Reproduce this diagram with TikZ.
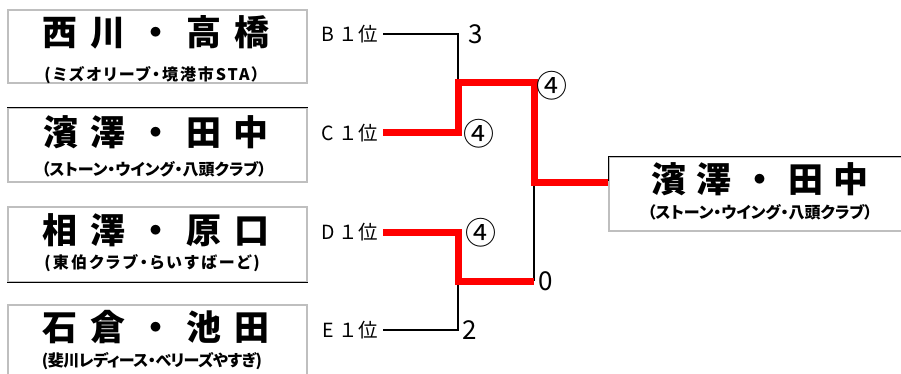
\documentclass[tikz,border=0pt]{standalone}
\usepackage{fontspec}
\newfontfamily\jp{Noto Sans CJK JP}
\newfontfamily\jpp{Noto Sans CJK JP}[RawFeature=+palt]
\definecolor{bord}{HTML}{BFBFBF}
\definecolor{winred}{HTML}{FF0000}
\begin{document}
\begin{tikzpicture}[x=1pt,y=-1pt,
  box/.style={draw=bord, line width=1.2pt, minimum width=299pt, inner sep=0pt},
  pname/.style={font=\jp\bfseries\fontsize{35}{35}\selectfont, inner sep=0pt},
  team/.style={font=\jpp\bfseries\fontsize{16}{16}\selectfont, inner sep=0pt},
  seed/.style={font=\jp\fontsize{19.5}{19.5}\selectfont, anchor=east, inner xsep=5pt, inner ysep=0pt},
  score/.style={font=\jp\fontsize{26}{26}\selectfont, inner sep=0pt},
  circ/.style={font=\jp\fontsize{31}{31}\selectfont, inner sep=0pt},
  lose/.style={line width=2pt, black},
  win/.style={line width=7pt, winred, line cap=butt, line join=miter},
  edge/.style={line width=1.4pt, black},
]
\useasboundingbox (0,0) rectangle (901,374);
\clip (0,0) rectangle (901,374);
\fill[white] (0,0) rectangle (901,374);

% player boxes
\node[box, minimum height=73pt] (box1) at (157.5,46.5) {};
\node[box, minimum height=74pt] (box2) at (157.5,145) {};
\node[box, minimum height=75pt] (box3) at (157.5,244.5) {};
\node[box, minimum height=75pt] (box4) at (157.5,342.5) {};
\node[box, minimum width=301pt, minimum height=74pt] (box5) at (759.5,194) {};
\draw[edge] (box2.north west) -- (box2.north east);
\draw[edge] (box3.south west) -- (box3.south east);
\draw[edge] (box5.north west) -- (box5.north east);
\draw[edge] (box5.north west) -- ++(0,25);

\node[pname] (n1) at (156,32) {\makebox[228pt]{西\hfill 川\hfill ・\hfill 高\hfill 橋}};
\node[team]  (t1) at (152,75) {\addfontfeature{LetterSpace=12}(ミズオリーブ・境港市STA）};
\node[pname] (n2) at (156,132) {\makebox[226pt]{濱\hfill 澤\hfill ・\hfill 田\hfill 中}};
\node[team]  (t2) at (154,169) {（ストーン・ウイング・八頭クラブ）};
\node[pname] (n3) at (156,230) {\makebox[228pt]{相\hfill 澤\hfill ・\hfill 原\hfill 口}};
\node[team]  (t3) at (152,263) {\addfontfeature{LetterSpace=14}(東伯クラブ・らいすばーど)};
\node[pname] (n4) at (156,327) {\makebox[228pt]{石\hfill 倉\hfill ・\hfill 池\hfill 田}};
\node[team]  (t4) at (152,361) {\addfontfeature{LetterSpace=-3}(斐川レディース・べリーズやすぎ)};
\node[pname] (n5) at (760,179) {\makebox[218pt]{濱\hfill 澤\hfill ・\hfill 田\hfill 中}};
\node[team]  (t5) at (760,212) {（ストーン・ウイング・八頭クラブ）};

% seeds
\node[seed] (sB) at (383,34) {B １位};
\node[seed] (sC) at (383,133) {C １位};
\node[seed] (sD) at (383,232) {D １位};
\node[seed] (sE) at (383,330) {E １位};

% junctions
\coordinate (jB) at (458,34);
\coordinate (jC) at (458,133);
\coordinate (jD) at (458,232);
\coordinate (jE) at (458,330);
\coordinate (s1) at (458,83);
\coordinate (s2) at (458,281);
\coordinate (f1) at (534,83);
\coordinate (f2) at (534,281);
\coordinate (fm) at (534,182);

% losing lines
\draw[lose] (sB.east |- jB) -- (jB) -- (s1);
\draw[lose] (sE.east |- jE) -- (jE) -- (s2);
\draw[lose] (fm) -- (f2);

% winning lines
\draw[win] (sC.east |- jC) -- (jC) -- (s1) -- (f1) -- (fm) -- (fm -| box5.west);
\draw[win] (sD.east |- jD) -- (jD) -- (s2) -- (f2);

% scores
\node[score] (scB) at (476,34) {3};
\node[circ]  (scC) at (479,134) {④};
\node[circ]  (scS1) at (552,86) {④};
\node[circ]  (scD) at (481,233) {④};
\node[score] (scS2) at (546,281) {0};
\node[score] (scE) at (470,330) {2};
\end{tikzpicture}
\end{document}
